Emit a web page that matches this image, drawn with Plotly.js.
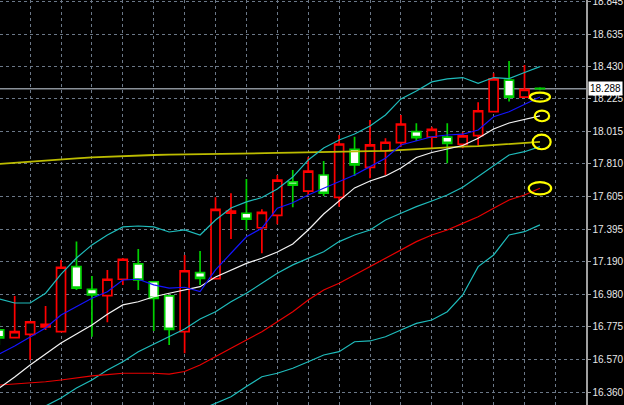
<!DOCTYPE html>
<html>
<head>
<meta charset="utf-8">
<script src="https://cdn.plot.ly/plotly-3.0.1.min.js"></script>
<style>
  html, body { margin: 0; padding: 0; background: #000; }
  #chart { width: 624px; height: 405px; }
</style>
</head>
<body>
<div id="chart"></div>
<script>
// Bar numbers (oldest visible bar = 0)
const bars = [0,1,2,3,4,5,6,7,8,9,10,11,12,13,14,15,16,17,18,19,20,21,22,23,24,25,26,27,28,29,30,31,32,33,34,35];

// OHLC
const open  = [16.756,16.707,16.728,16.775,16.745,17.158,17.014,16.974,17.078,17.175,17.062,16.972,16.745,17.120,17.082,17.497,17.497,17.405,17.484,17.696,17.638,17.740,17.598,17.903,17.789,17.894,17.945,18.015,17.980,17.980,17.935,17.990,18.142,18.343,18.234,18.290];
const high  = [16.806,16.972,16.813,16.908,17.200,17.317,17.099,17.137,17.213,17.270,17.067,16.978,17.232,17.257,17.598,17.624,17.715,17.522,17.740,17.772,17.853,17.829,17.994,17.983,18.089,17.973,18.121,18.068,18.047,18.068,18.011,18.202,18.386,18.464,18.439,18.297];
const low   = [16.660,16.705,16.565,16.756,16.743,17.010,16.713,16.805,17.042,17.010,16.749,16.660,16.608,17.042,17.080,17.334,17.391,17.243,17.427,17.535,17.613,17.607,17.539,17.734,17.719,17.740,17.920,17.956,17.903,17.814,17.910,17.926,18.140,18.206,18.232,18.278];
const close = [16.705,16.745,16.808,16.792,17.154,17.021,16.978,17.078,17.205,17.073,16.957,16.760,17.132,17.084,17.522,17.511,17.459,17.503,17.708,17.675,17.765,17.624,17.937,17.804,17.931,17.948,18.064,17.977,18.030,17.941,17.988,18.148,18.350,18.234,18.284,18.288];

// Indicators
const maBlue   = [16.603,16.654,16.711,16.768,16.851,16.904,16.957,16.999,17.073,17.078,17.042,17.021,17.027,16.999,17.137,17.243,17.348,17.402,17.529,17.564,17.613,17.656,17.698,17.740,17.793,17.846,17.931,17.956,17.983,17.994,17.999,18.026,18.110,18.142,18.189,18.235];
const maWhite  = [16.387,16.457,16.533,16.603,16.673,16.730,16.788,16.855,16.915,16.935,16.967,16.989,17.010,17.031,17.092,17.137,17.179,17.211,17.251,17.302,17.391,17.492,17.575,17.658,17.702,17.734,17.785,17.851,17.883,17.905,17.927,17.973,18.032,18.070,18.093,18.115];
const maRed    = [16.406,16.413,16.417,16.427,16.438,16.451,16.464,16.472,16.481,16.481,16.481,16.476,16.492,16.533,16.584,16.640,16.692,16.745,16.808,16.872,16.946,17.010,17.052,17.105,17.158,17.211,17.264,17.317,17.359,17.391,17.433,17.475,17.529,17.581,17.613,17.656];
const maYellow = [17.810,17.818,17.825,17.833,17.840,17.846,17.852,17.856,17.863,17.865,17.867,17.869,17.870,17.872,17.873,17.873,17.875,17.877,17.880,17.882,17.883,17.884,17.886,17.889,17.891,17.893,17.899,17.903,17.910,17.913,17.920,17.924,17.931,17.937,17.943,17.950];
const bbUpper  = [16.953,16.927,16.927,16.989,17.111,17.213,17.296,17.359,17.410,17.416,17.410,17.378,17.391,17.359,17.454,17.531,17.569,17.597,17.651,17.727,17.835,17.912,17.962,18.000,18.051,18.121,18.223,18.274,18.331,18.350,18.359,18.322,18.359,18.352,18.391,18.428];
const bbMiddle = [16.121,16.171,16.222,16.273,16.324,16.387,16.438,16.502,16.554,16.618,16.667,16.714,16.762,16.826,16.872,16.935,16.989,17.052,17.116,17.169,17.211,17.253,17.317,17.359,17.391,17.454,17.497,17.539,17.575,17.613,17.662,17.729,17.799,17.867,17.888,17.920];
const bbLower  = [15.289,15.416,15.517,15.555,15.536,15.562,15.581,15.644,15.702,15.822,15.924,16.051,16.133,16.248,16.289,16.332,16.396,16.459,16.481,16.513,16.554,16.597,16.618,16.681,16.686,16.713,16.756,16.798,16.819,16.872,16.978,17.158,17.232,17.359,17.380,17.423];

// Price scale labels
const priceLabels = ["16.360","16.570","16.775","16.980","17.190","17.395","17.605","17.810","18.015","18.225","18.430","18.635","18.845"];
const gridBars = [2,4,6,8,10,12,14,16,18,20,22,24,26,28,30,32,34,36];

const n = bars.length;
const last = n - 1;
const lastPrice = close[last];

function line(y, color, w) {
  return { type: 'scatter', mode: 'lines', x: bars, y: y,
           line: { color: color, width: w || 1.2 }, hoverinfo: 'skip', showlegend: false };
}

const traces = [
  {
    type: 'candlestick', x: bars, open: open, high: high, low: low, close: close,
    increasing: { line: { color: '#ff0000', width: 1.7 }, fillcolor: '#000000' },
    decreasing: { line: { color: '#00d000', width: 1.7 }, fillcolor: '#ffffff' },
    whiskerwidth: 0, hoverinfo: 'skip', showlegend: false
  },
  line(maYellow, '#bcbc00', 1.8),
  line(bbUpper, '#1fbcbc'),
  line(bbMiddle, '#1fbcbc'),
  line(bbLower, '#1fbcbc'),
  line(maRed, '#e80000'),
  line(maWhite, '#f4f4f4'),
  line(maBlue, '#1414ff')
];

// ellipses around last values (sizes in px converted to data units)
const pxPerUnit = 157.46;
function ellipse(yVal, dx, hwPx, hhPx) {
  const cx = last + dx / 15.45;
  return { type: 'circle', xref: 'x', yref: 'y', layer: 'above',
    x0: cx - hwPx / 15.45, x1: cx + hwPx / 15.45,
    y0: yVal - hhPx / pxPerUnit, y1: yVal + hhPx / pxPerUnit,
    line: { color: '#ffff00', width: 2.2 } };
}

const layout = {
  width: 624, height: 405,
  margin: { l: 0, r: 38, t: 0, b: 0, pad: 0 },
  paper_bgcolor: '#000000', plot_bgcolor: '#000000',
  showlegend: false, dragmode: false, hovermode: false,
  boxgap: 0.42, boxgroupgap: 0,
  xaxis: {
    range: [0.05, 37.98], tickmode: 'array', tickvals: gridBars,
    showticklabels: false, ticks: '', showgrid: true,
    gridcolor: '#6b7888', griddash: '3px,3px', gridwidth: 1,
    zeroline: false, showline: false, rangeslider: { visible: false }, fixedrange: true
  },
  yaxis: {
    side: 'right', range: [16.2793, 18.8514],
    tickmode: 'array', tickvals: priceLabels.map(Number), ticktext: priceLabels,
    ticks: 'outside', ticklen: 3, tickcolor: '#a0a0a0', tickwidth: 1,
    ticklabeloverflow: 'allow',
    tickfont: { family: 'Liberation Sans, Arial, sans-serif', size: 10, color: '#e8e8e8' },
    showgrid: true, gridcolor: '#6b7888', griddash: '3px,3px', gridwidth: 1,
    showline: true, linecolor: '#a0a0a0', linewidth: 1.5, zeroline: false, fixedrange: true
  },
  shapes: [
    { type: 'line', xref: 'paper', yref: 'y', x0: 0, x1: 1, y0: lastPrice, y1: lastPrice,
      layer: 'below', line: { color: '#8a9199', width: 1.5 } },
    ellipse(maBlue[last], 0, 10, 4.5),
    ellipse(maWhite[last], 2, 7.2, 5.3),
    ellipse(maYellow[last], 1.7, 9, 7.3),
    ellipse(maRed[last], 0, 11.2, 6.2)
  ],
  annotations: [
    { xref: 'paper', yref: 'y', x: 1, y: lastPrice, xanchor: 'left', yanchor: 'middle',
      xshift: 2, text: lastPrice.toFixed(3), showarrow: false, bgcolor: '#ffffff',
      borderpad: 1, font: { family: 'Liberation Sans, Arial, sans-serif', size: 10, color: '#000000' } }
  ]
};

Plotly.newPlot('chart', traces, layout, { displayModeBar: false, staticPlot: true });
</script>
</body>
</html>
